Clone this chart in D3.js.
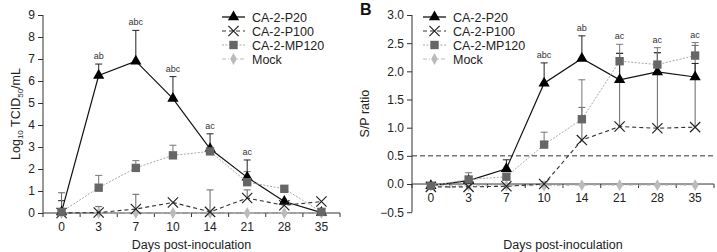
<!DOCTYPE html>
<html>
<head>
<meta charset="utf-8">
<script src="https://cdn.jsdelivr.net/npm/d3@7"></script>
<style>
  body { margin: 0; background: #fff; }
  svg { font-family: "Liberation Sans", Arial, sans-serif; }
</style>
</head>
<body>
<div id="chart"></div>
<script>
// days post-inoculation (categorical x axis)
const days = ["0", "3", "7", "10", "14", "21", "28", "35"];
const seriesNames = ["CA-2-P20", "CA-2-P100", "CA-2-MP120", "Mock"];

// panel A: Log10 TCID50/mL
const titerP20    = [0.05, 6.25, 6.9, 5.2, 2.92, 1.62, 0.52, 0.02];
const titerP20Err = [0.56, 6.77, 8.3, 6.2, 3.6, 2.41, null, null];
const titerP100    = [0.0, 0.02, 0.18, 0.48, 0.05, 0.68, 0.35, 0.52];
const titerP100Err = [0.92, 0.29, 0.85, null, 1.05, 1.05, null, null];
const titerMP120    = [0.05, 1.15, 2.05, 2.62, 2.8, 1.4, 1.1, 0.05];
const titerMP120Err = [null, 1.71, 2.38, 3.08, null, 1.88, null, null];
const titerMock = [0, 0, 0, 0, 0, 0, 0, 0];
const titerLetters = ["", "ab", "abc", "abc", "ac", "ac", "", ""];
const titerTicks = [0, 1, 2, 3, 4, 5, 6, 7, 8, 9];

// panel B: S/P ratio
const spP20    = [-0.03, 0.06, 0.27, 1.79, 2.23, 1.85, 1.99, 1.9];
const spP20Err = [null, null, 0.43, 2.15, 2.63, 2.32, 2.33, 2.14];
const spP100    = [-0.05, -0.05, -0.04, 0.0, 0.78, 1.02, 0.99, 1.01];
const spP100Err = [null, null, null, 0.04, 1.36, 2.32, 2.33, 2.46];
const spMP120    = [-0.03, 0.08, 0.13, 0.7, 1.15, 2.18, 2.12, 2.28];
const spMP120Err = [null, 0.2, null, 0.92, 1.85, 2.48, 2.42, 2.51];
const spMock = [-0.03, -0.03, -0.03, -0.03, -0.02, -0.02, -0.02, -0.02];
const spLetters = ["", "", "", "abc", "ab", "ac", "ac", "ac"];
const spTicks = [-0.5, 0, 0.5, 1.0, 1.5, 2.0, 2.5, 3.0];
const spCutoff = 0.5;

const styles = {
    "CA-2-P20":   {line: "#111", dash: null,  marker: "triangle", fill: "#000", stroke: "#000", err: "#222", lw: 1.2},
    "CA-2-P100":  {line: "#333", dash: "4,3", marker: "cross",    fill: "none", stroke: "#222", err: "#666", lw: 1.1},
    "CA-2-MP120": {line: "#aaa", dash: "2,1.5", marker: "square", fill: "#666", stroke: "#666", err: "#777", lw: 1},
    "Mock":       {line: "#bbb", dash: "4,2,1,2", marker: "diamond", fill: "#bbb", stroke: "#bbb", err: "#bbb", lw: 1}
};

const svg = d3.select("#chart").append("svg")
    .attr("width", 717)
    .attr("height", 252);

function marker(g, type, s) {
    if (type === "cross") {
        g.append("path")
            .attr("d", d3.symbol(d3.symbolTimes, 70)())
            .attr("fill", "none").attr("stroke", s.stroke).attr("stroke-width", 1.2);
    } else {
        const sym = {triangle: d3.symbolTriangle, square: d3.symbolSquare, diamond: d3.symbolDiamond}[type];
        const size = {triangle: 55, square: 70, diamond: 40}[type];
        g.append("path")
            .attr("d", d3.symbol(sym, size)())
            .attr("fill", s.fill);
    }
}

function drawPanel(cfg) {
    const x = d3.scaleBand().domain(days).range(cfg.xRange);
    const y = d3.scaleLinear().domain(cfg.yDomain).range(cfg.yRange);
    const cx = d => x(d) + x.bandwidth() / 2;
    const g = svg.append("g");

    // y axis
    const yAxis = g.append("g")
        .attr("transform", `translate(${cfg.xRange[0]},0)`)
        .call(d3.axisLeft(y).tickValues(cfg.yTicks).tickSize(5).tickPadding(3).tickFormat(cfg.yFormat));
    yAxis.select(".domain").attr("d", `M0,${cfg.yRange[0]}V${cfg.yRange[1]}`).attr("stroke", "#333");
    yAxis.selectAll(".tick line").attr("stroke", "#333");
    yAxis.selectAll("text").attr("font-size", 12).attr("fill", "#222");

    // x axis: line at y = 0, ticks at band edges
    const y0 = y(0);
    g.append("line")
        .attr("x1", cfg.xRange[0]).attr("x2", cfg.xRange[1])
        .attr("y1", y0).attr("y2", y0)
        .attr("stroke", "#333");
    g.selectAll(".xtick")
        .data(days.concat(["end"]))
        .join("line")
        .attr("x1", (d, i) => cfg.xRange[0] + i * x.step())
        .attr("x2", (d, i) => cfg.xRange[0] + i * x.step())
        .attr("y1", y0).attr("y2", y0 + 4)
        .attr("stroke", "#333");
    g.selectAll(".xlab")
        .data(days)
        .join("text")
        .attr("x", cx)
        .attr("y", y0 + 18)
        .attr("text-anchor", "middle")
        .attr("font-size", 12)
        .attr("fill", "#222")
        .text(d => d);

    if (cfg.cutoff != null) {
        g.append("line")
            .attr("x1", cfg.xRange[0]).attr("x2", cfg.xRange[1])
            .attr("y1", y(cfg.cutoff)).attr("y2", y(cfg.cutoff))
            .attr("stroke", "#333").attr("stroke-dasharray", "5,3");
    }

    // error bars
    cfg.series.forEach(s => {
        const st = styles[s.name];
        days.forEach((d, i) => {
            if (s.err[i] == null) return;
            g.append("line")
                .attr("x1", cx(d)).attr("x2", cx(d))
                .attr("y1", y(s.values[i])).attr("y2", y(s.err[i]))
                .attr("stroke", st.err).attr("stroke-width", 1);
            g.append("line")
                .attr("x1", cx(d) - 3.5).attr("x2", cx(d) + 3.5)
                .attr("y1", y(s.err[i])).attr("y2", y(s.err[i]))
                .attr("stroke", st.err).attr("stroke-width", 1);
        });
    });

    // lines and markers
    const line = d3.line().x((v, i) => cx(days[i])).y(v => y(v));
    cfg.series.forEach(s => {
        const st = styles[s.name];
        g.append("path")
            .datum(s.values)
            .attr("d", line)
            .attr("fill", "none")
            .attr("stroke", st.line)
            .attr("stroke-width", st.lw)
            .attr("stroke-dasharray", st.dash);
        s.values.forEach((v, i) => {
            const mg = g.append("g").attr("transform", `translate(${cx(days[i])},${y(v)})`);
            marker(mg, st.marker, st);
        });
    });

    // significance letters above highest error bar
    days.forEach((d, i) => {
        if (!cfg.letters[i]) return;
        const top = d3.max(cfg.series, s => s.err[i] != null ? s.err[i] : s.values[i]);
        g.append("text")
            .attr("x", cx(d))
            .attr("y", y(top) - 5)
            .attr("text-anchor", "middle")
            .attr("font-size", 9)
            .attr("fill", "#333")
            .text(cfg.letters[i]);
    });

    // legend
    const lg = g.append("g").attr("transform", `translate(${cfg.legend[0]},${cfg.legend[1]})`);
    seriesNames.forEach((name, i) => {
        const st = styles[name];
        const row = lg.append("g").attr("transform", `translate(0,${i * 14})`);
        row.append("line")
            .attr("x1", 0).attr("x2", 23).attr("y1", 0).attr("y2", 0)
            .attr("stroke", name === "CA-2-P20" ? "#000" : st.line)
            .attr("stroke-width", st.lw)
            .attr("stroke-dasharray", st.dash);
        marker(row.append("g").attr("transform", "translate(11.5,0)"), st.marker, st);
        row.append("text")
            .attr("x", 30).attr("y", 4.5)
            .attr("font-size", 12.5)
            .attr("fill", "#222")
            .text(name);
    });

    // axis titles
    g.append("text")
        .attr("x", (cfg.xRange[0] + cfg.xRange[1]) / 2 + cfg.xTitleShift)
        .attr("y", 249)
        .attr("text-anchor", "middle")
        .attr("font-size", 12.5)
        .attr("fill", "#222")
        .text("Days post-inoculation");

    const yt = g.append("text")
        .attr("transform", `translate(${cfg.yTitleX},${(cfg.yRange[0] + cfg.yRange[1]) / 2}) rotate(-90)`)
        .attr("text-anchor", "middle")
        .attr("font-size", 12.5)
        .attr("fill", "#222");
    cfg.yTitle(yt);
}

drawPanel({
    xRange: [43, 340],
    yDomain: [0, 9],
    yRange: [213, 15],
    yTicks: titerTicks,
    yFormat: d3.format("d"),
    series: [
        {name: "Mock", values: titerMock, err: titerMock.map(() => null)},
        {name: "CA-2-P20", values: titerP20, err: titerP20Err},
        {name: "CA-2-P100", values: titerP100, err: titerP100Err},
        {name: "CA-2-MP120", values: titerMP120, err: titerMP120Err}
    ],
    letters: titerLetters,
    cutoff: null,
    legend: [222, 17],
    xTitleShift: 0,
    yTitleX: 20,
    yTitle: t => {
        t.append("tspan").text("Log");
        t.append("tspan").attr("font-size", 8).attr("dy", 3).text("10");
        t.append("tspan").attr("dy", -3).text(" TCID");
        t.append("tspan").attr("font-size", 8).attr("dy", 3).text("50");
        t.append("tspan").attr("dy", -3).text("/mL");
    }
});

drawPanel({
    xRange: [412, 714],
    yDomain: [-0.5, 3],
    yRange: [212.2, 15],
    yTicks: spTicks,
    yFormat: d3.format(".1f"),
    series: [
        {name: "Mock", values: spMock, err: spMock.map(() => null)},
        {name: "CA-2-P100", values: spP100, err: spP100Err},
        {name: "CA-2-P20", values: spP20, err: spP20Err},
        {name: "CA-2-MP120", values: spMP120, err: spMP120Err}
    ],
    letters: spLetters,
    cutoff: spCutoff,
    legend: [423, 17],
    xTitleShift: 0,
    yTitleX: 369,
    yTitle: t => t.text("S/P ratio")
});

svg.append("text")
    .attr("x", 360).attr("y", 15)
    .attr("font-size", 16).attr("font-weight", "bold")
    .attr("fill", "#111")
    .text("B");
</script>
</body>
</html>
